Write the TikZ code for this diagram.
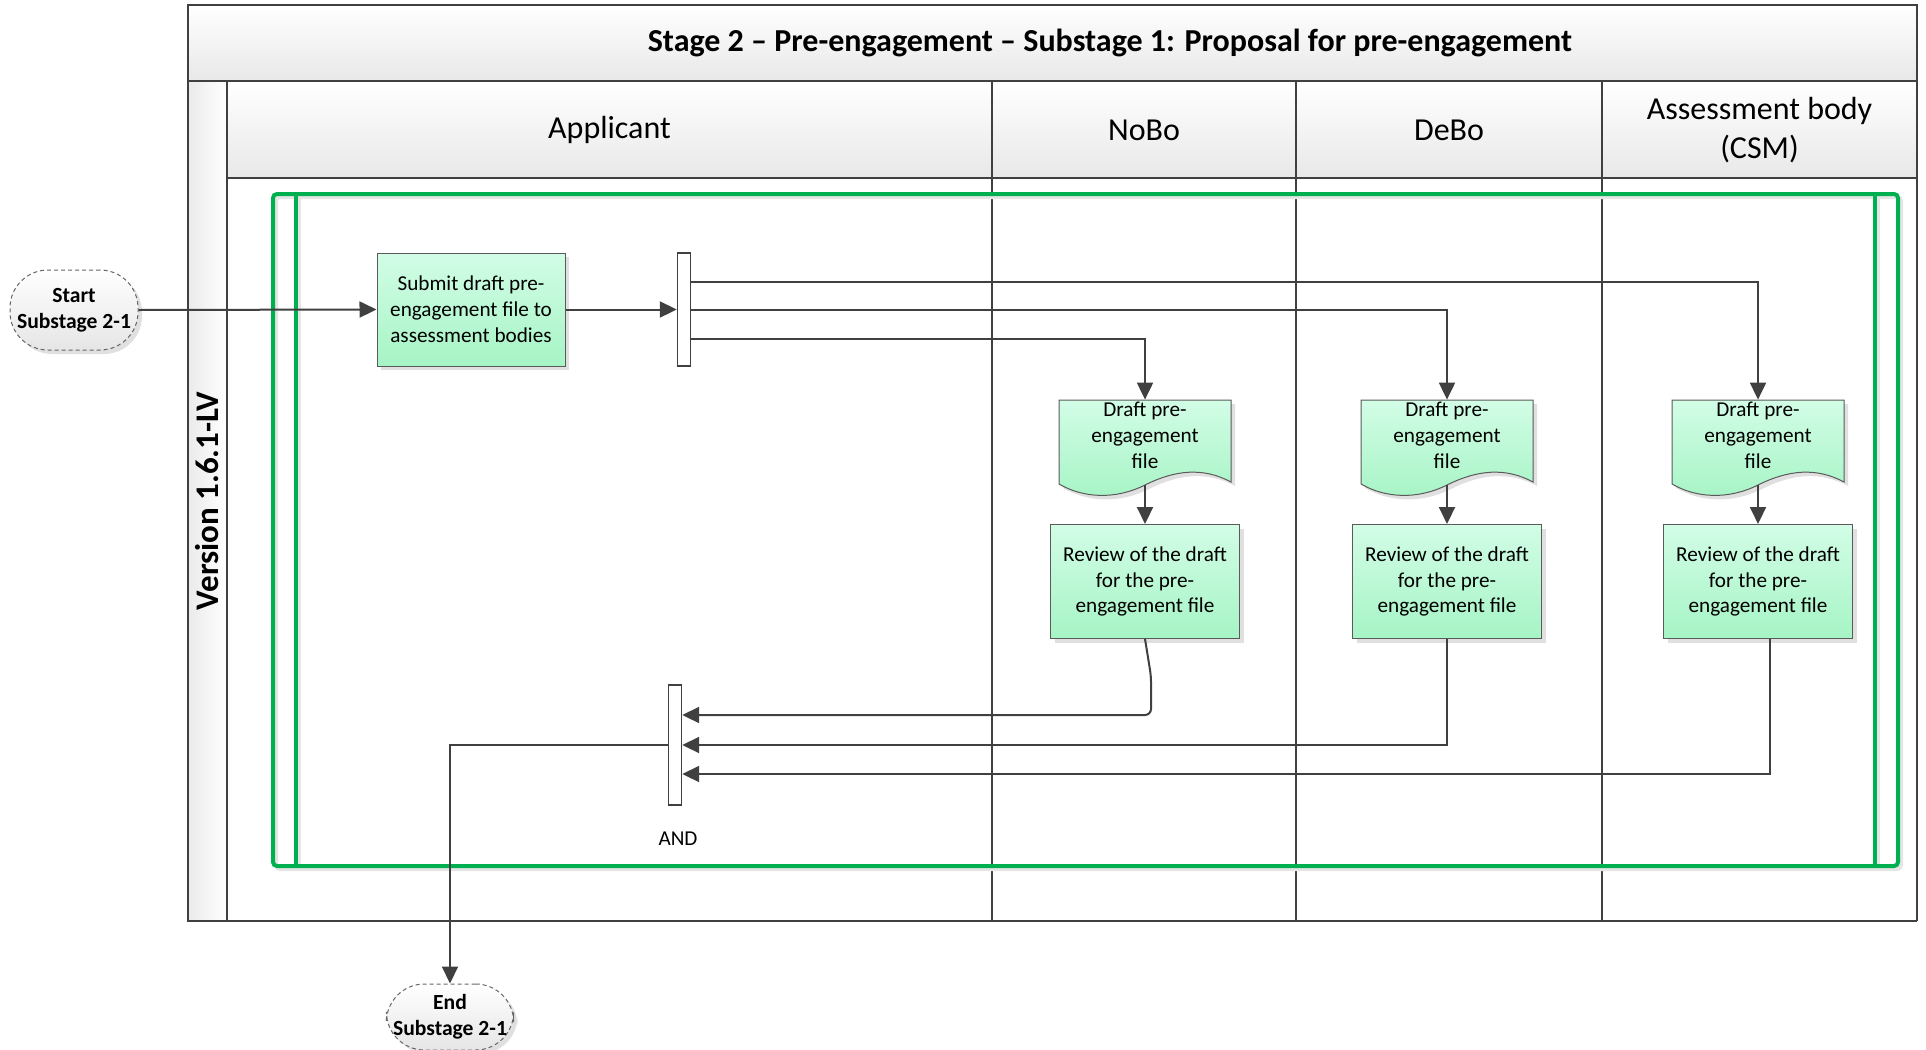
\documentclass[tikz,border=0pt]{standalone}
\usepackage{fontspec}
\setmainfont{Carlito}
\usetikzlibrary{arrows.meta,positioning,shadows,calc}

\definecolor{lanegray}{HTML}{404040}
\definecolor{framegreen}{HTML}{00B050}
\definecolor{boxtop}{HTML}{D2FDE6}
\definecolor{boxbottom}{HTML}{A6F4C5}
\definecolor{boxline}{HTML}{5A5A5A}

\begin{document}
\begin{tikzpicture}[
    x=0.5pt, y=-0.5pt,
    lane/.style={draw=lanegray, line width=1pt},
    header/.style={lane, top color=white, bottom color=black!9},
    lanelabel/.style={align=center, font=\fontsize{16}{19.5}\selectfont},
    boxshadow/.style={drop shadow={shadow xshift=2pt, shadow yshift=-2pt, fill=black!12, opacity=1}},
    task/.style={rectangle, draw=boxline, line width=0.5pt, top color=boxtop, bottom color=boxbottom,
        align=center, font=\fontsize{10.6}{12.9}\selectfont, inner sep=0pt,
        minimum width=94.5pt, minimum height=57pt, boxshadow},
    docshape/.style={draw=boxline, line width=0.5pt, top color=boxtop, bottom color=boxbottom, boxshadow},
    doctext/.style={align=center, font=\fontsize{10.6}{12.9}\selectfont, inner sep=0pt,
        minimum width=86pt, minimum height=42pt},
    terminal/.style={rectangle, rounded corners=19pt, draw=black!60, dash pattern=on 2pt off 1.5pt,
        line width=0.5pt, top color=white, bottom color=black!10, align=center,
        font=\bfseries\fontsize{10.8}{13}\selectfont, minimum width=64pt, minimum height=40pt, boxshadow},
    bar/.style={rectangle, draw=lanegray, line width=0.7pt, fill=white, minimum width=6.5pt, inner sep=0pt},
    flow/.style={draw=lanegray, line width=1pt, -{Triangle[length=8.5pt, width=8pt]}},
    greenframe/.style={draw=framegreen, line width=2pt},
    greenshadow/.style={draw=black!10, line width=2pt}
]
\useasboundingbox (0,0) rectangle (1926,1049);

\draw[header] (188,5) rectangle (1917,81);
\node[font=\bfseries\fontsize{16}{19}\selectfont] (Title) at (1110,43)
    {Stage 2 – Pre-engagement – Substage 1: Proposal for pre-engagement};
\draw[lane, left color=black!8, right color=white] (188,81) rectangle (227,921);
\node[rotate=90, font=\bfseries\fontsize{16.5}{19}\selectfont] (Version) at (207,501) {Version 1.6.1-LV};

\foreach \xa/\xb/\lbl/\nm in {227/992/Applicant/laneApp, 992/1296/NoBo/laneNoBo,
        1296/1602/DeBo/laneDeBo, 1602/1917/{Assessment body\\(CSM)}/laneCSM}{
    \draw[header] (\xa,81) rectangle (\xb,178);
    \draw[lane] (\xb,178) -- (\xb,921);
    \node[lanelabel] (\nm) at ({(\xa+\xb)/2},130) {\lbl};
}
\draw[lane] (188,921) -- (1917,921);

\begin{scope}[shift={(3,3)}]
\draw[greenshadow, rounded corners=2pt] (273,194) rectangle (1898,866);
\draw[greenshadow] (296,194) -- (296,866);
\draw[greenshadow] (1875,194) -- (1875,866);
\end{scope}
\draw[greenframe, rounded corners=2pt] (273,194) rectangle (1898,866);
\draw[greenframe] (296,194) -- (296,866);
\draw[greenframe] (1875,194) -- (1875,866);

\node[terminal] (Start) at (74,310) {Start\\Substage 2-1};
\node[task, minimum width=94pt, minimum height=56.5pt] (Submit) at (471,309.5)
    {Submit draft pre-\\engagement file to\\assessment bodies};
\node[bar, minimum height=56.5pt] (Fork) at (684,309.5) {};

\foreach \cx/\nm in {1145/NoBo, 1447/DeBo, 1758/CSM}{
    \draw[docshape] ({\cx-86},400) -- ({\cx+86},400) -- ({\cx+86},482)
        .. controls ({\cx+58},467) and ({\cx+30},470) .. (\cx,485)
        .. controls ({\cx-30},500) and ({\cx-62},498) .. ({\cx-86},484) -- cycle;
    \node[doctext] (doc\nm) at (\cx,435) {Draft pre-\\engagement\\file};
    \node[task] (rev\nm) at (\cx,581.5) {Review of the draft\\for the pre-\\engagement file};
    \draw[flow] ([yshift=-4pt]doc\nm.south) -- (rev\nm.north);
}

\node[bar, minimum height=60pt] (Join) at (675,745) {};
\node[font=\fontsize{10.6}{12.9}\selectfont] (JoinText) at (678,839) {AND};
\node[terminal, minimum width=63pt, minimum height=33pt] (End) at (450,1017) {End\\Substage 2-1};

\draw[flow] (Start.east) -- (Submit.west);
\draw[flow] (Submit.east) -- (Fork.west);
\draw[flow] ([yshift=14pt]Fork.east) -| ([yshift=-3.5pt]docCSM.north);
\draw[flow] (Fork.east) -| ([yshift=-3.5pt]docDeBo.north);
\draw[flow] ([yshift=-14.5pt]Fork.east) -| ([yshift=-3.5pt]docNoBo.north);

\draw[flow, rounded corners=3pt] (revNoBo.south) -- ++(6,37) |- ([yshift=15pt]Join.east);
\draw[flow] (revDeBo.south) |- (Join.east);
\draw[flow] ([xshift=6pt]revCSM.south) |- ([yshift=-14.5pt]Join.east);
\draw[flow] (Join.west) -| (End.north);

\end{tikzpicture}
\end{document}
